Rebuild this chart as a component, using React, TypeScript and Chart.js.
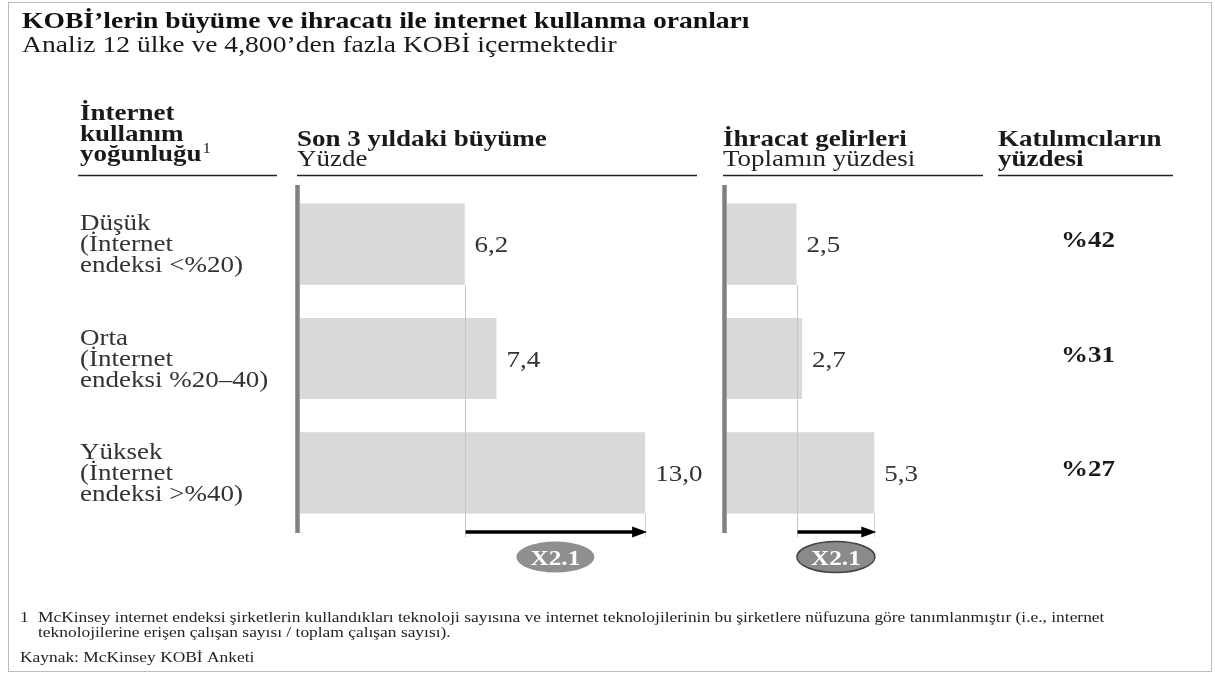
import React, { useEffect, useRef } from "react";
import { Chart, registerables } from "chart.js";

Chart.register(...registerables);

// ---------- data ----------
const categories = ["Düşük", "Orta", "Yüksek"];
const categoryDetails = [
  ["(İnternet", "endeksi <%20)"],
  ["(İnternet", "endeksi %20–40)"],
  ["(İnternet", "endeksi >%40)"],
];
const growthValues = [6.2, 7.4, 13.0];
const exportValues = [2.5, 2.7, 5.3];
const participantShares = [42, 31, 27];

const titleText = "KOBİ’lerin büyüme ve ihracatı ile internet kullanma oranları";
const subtitleText = "Analiz 12 ülke ve 4,800’den fazla KOBİ içermektedir";
const leftHeader = ["İnternet", "kullanım", "yoğunluğu"];
const growthHeader = ["Son 3 yıldaki büyüme", "Yüzde"];
const exportHeader = ["İhracat gelirleri", "Toplamın yüzdesi"];
const shareHeader = ["Katılımcıların", "yüzdesi"];
const footnoteLines = [
  "McKinsey internet endeksi şirketlerin kullandıkları teknoloji sayısına ve internet teknolojilerinin bu şirketlere nüfuzuna göre tanımlanmıştır (i.e., internet",
  "teknolojilerine erişen çalışan sayısı / toplam çalışan sayısı).",
];
const sourceText = "Kaynak: McKinsey KOBİ Anketi";

// ---------- drawing helpers ----------
const SERIF = "'Liberation Serif','Times New Roman',serif";
const SX = 1.2;
const W = 1215;
const H = 675;

function txt(
  ctx: CanvasRenderingContext2D,
  s: string,
  x: number,
  y: number,
  size: number,
  weight = "normal",
  color = "#1a1a1a",
  align: CanvasTextAlign = "left",
  sx = SX
): number {
  ctx.save();
  ctx.font = `${weight} ${size}px ${SERIF}`;
  ctx.fillStyle = color;
  ctx.textBaseline = "alphabetic";
  ctx.textAlign = align;
  ctx.translate(x, y);
  ctx.scale(sx, 1);
  ctx.fillText(s, 0, 0);
  const w = ctx.measureText(s).width * sx;
  ctx.restore();
  return w;
}

function hline(ctx: CanvasRenderingContext2D, x1: number, x2: number, y: number, color: string, lw: number) {
  ctx.save();
  ctx.strokeStyle = color;
  ctx.lineWidth = lw;
  ctx.beginPath();
  ctx.moveTo(x1, y);
  ctx.lineTo(x2, y);
  ctx.stroke();
  ctx.restore();
}

function vline(ctx: CanvasRenderingContext2D, x: number, y1: number, y2: number, color: string, lw: number) {
  ctx.save();
  ctx.strokeStyle = color;
  ctx.lineWidth = lw;
  ctx.beginPath();
  ctx.moveTo(x, y1);
  ctx.lineTo(x, y2);
  ctx.stroke();
  ctx.restore();
}

const fmt = (v: number) => v.toFixed(1).replace(".", ",");

function barExtras(id: string, ringStroke: string | null, extra?: (chart: any) => void) {
  return {
    id,
    afterDatasetsDraw(chart: any) {
      const ctx: CanvasRenderingContext2D = chart.ctx;
      const area = chart.chartArea;
      const xs = chart.scales.x;
      const meta = chart.getDatasetMeta(0);
      const vals = chart.data.datasets[0].data as number[];
      const bars = meta.data.map((el: any) => el.getProps(["x", "y", "height"], true));

      // axis line
      vline(ctx, area.left - 2.5, area.top - 2, area.bottom + 3, "#808080", 4.5);

      const lo = vals[0];
      const hi = vals[vals.length - 1];
      const xLo = xs.getPixelForValue(lo);
      const xHi = xs.getPixelForValue(hi);
      const arrowY = area.bottom + 2;

      // thin guide lines
      vline(ctx, Math.round(xLo) + 0.5, bars[0].y + bars[0].height / 2, arrowY + 5, "#c6c6c6", 1);
      vline(ctx, Math.round(xHi) + 0.5, bars[bars.length - 1].y + bars[bars.length - 1].height / 2, arrowY + 5, "#d0d0d0", 1);

      // value labels
      bars.forEach((b: any, i: number) => {
        txt(ctx, fmt(vals[i]), b.x + 10, b.y + 8, 22.5, "normal", "#333");
      });

      // arrow
      const ax1 = xLo + 1;
      const ax2 = xHi + 2;
      ctx.save();
      ctx.strokeStyle = "#000";
      ctx.fillStyle = "#000";
      ctx.lineWidth = 3.5;
      ctx.beginPath();
      ctx.moveTo(ax1, arrowY);
      ctx.lineTo(ax2 - 12, arrowY);
      ctx.stroke();
      ctx.beginPath();
      ctx.moveTo(ax2, arrowY);
      ctx.lineTo(ax2 - 15, arrowY - 5.5);
      ctx.lineTo(ax2 - 15, arrowY + 5.5);
      ctx.closePath();
      ctx.fill();
      ctx.restore();

      // ratio ellipse
      const cx = (ax1 + ax2) / 2 - 1;
      const cy = area.bottom + 27;
      ctx.save();
      ctx.beginPath();
      ctx.ellipse(cx, cy, 39, 15.5, 0, 0, Math.PI * 2);
      ctx.fillStyle = ringStroke ? "#8a8a8a" : "#8f8f8f";
      ctx.fill();
      if (ringStroke) {
        ctx.strokeStyle = ringStroke;
        ctx.lineWidth = 1.5;
        ctx.stroke();
      }
      ctx.restore();
      txt(ctx, "X" + (hi / lo).toFixed(1), cx, cy + 7.5, 21, "bold", "#ffffff", "center");

      if (extra) extra(chart);
    },
  };
}

const backgroundAndText = {
  id: "backgroundAndText",
  beforeDraw(chart: any) {
    const ctx: CanvasRenderingContext2D = chart.ctx;
    ctx.save();
    ctx.fillStyle = "#ffffff";
    ctx.fillRect(0, 0, W, H);
    ctx.strokeStyle = "#bdbdbd";
    ctx.lineWidth = 1;
    ctx.strokeRect(8.5, 2.5, 1203, 669);
    ctx.restore();

    // title block
    txt(ctx, titleText, 22, 28, 23, "bold", "#111");
    txt(ctx, subtitleText, 22, 52, 23, "normal", "#1a1a1a");

    // column headers
    txt(ctx, leftHeader[0], 80, 120, 22.5, "bold", "#1a1a1a");
    txt(ctx, leftHeader[1], 80, 141, 22.5, "bold", "#1a1a1a");
    const w = txt(ctx, leftHeader[2], 80, 161, 22.5, "bold", "#1a1a1a");
    txt(ctx, "1", 80 + w + 1, 153, 14, "normal", "#1a1a1a");

    txt(ctx, growthHeader[0], 297, 146, 22.5, "bold", "#1a1a1a");
    txt(ctx, growthHeader[1], 297, 166, 22.5, "normal", "#222");
    txt(ctx, exportHeader[0], 723, 146, 22.5, "bold", "#1a1a1a");
    txt(ctx, exportHeader[1], 723, 166, 22.5, "normal", "#222");
    txt(ctx, shareHeader[0], 998, 146, 22.5, "bold", "#1a1a1a");
    txt(ctx, shareHeader[1], 998, 166, 22.5, "bold", "#1a1a1a");

    hline(ctx, 78, 277, 175.5, "#222", 1.5);
    hline(ctx, 297, 697, 175.5, "#222", 1.5);
    hline(ctx, 723, 983, 175.5, "#222", 1.5);
    hline(ctx, 998, 1173, 175.5, "#222", 1.5);

    // footnotes
    txt(ctx, "1", 20, 622, 14.5, "normal", "#222");
    txt(ctx, footnoteLines[0], 38, 622, 14.5, "normal", "#222");
    txt(ctx, footnoteLines[1], 38, 637, 14.5, "normal", "#222");
    txt(ctx, sourceText, 20, 662, 14.5, "normal", "#222");
  },
};

function rowLabels(chart: any) {
  const ctx: CanvasRenderingContext2D = chart.ctx;
  const meta = chart.getDatasetMeta(0);
  meta.data.forEach((el: any, i: number) => {
    const y = el.getProps(["y"], true).y;
    txt(ctx, categories[i], 80, y - 14, 22.5, "normal", "#333");
    txt(ctx, categoryDetails[i][0], 80, y + 7, 22.5, "normal", "#333");
    txt(ctx, categoryDetails[i][1], 80, y + 28, 22.5, "normal", "#333");
  });
}

function shareColumn(chart: any) {
  const ctx: CanvasRenderingContext2D = chart.ctx;
  const meta = chart.getDatasetMeta(0);
  meta.data.forEach((el: any, i: number) => {
    const y = el.getProps(["y"], true).y;
    txt(ctx, "%" + participantShares[i], 1088, y + 3, 22.5, "bold", "#1a1a1a", "center");
  });
}

function makeConfig(values: number[], max: number, padding: any, plugins: any[]) {
  return {
    type: "bar" as const,
    data: {
      labels: categories,
      datasets: [
        {
          data: values,
          backgroundColor: "#d9d9d9",
          borderWidth: 0,
          barPercentage: 0.71,
          categoryPercentage: 1,
        },
      ],
    },
    options: {
      indexAxis: "y" as const,
      responsive: false,
      animation: false as const,
      devicePixelRatio: 1,
      layout: { padding },
      plugins: {
        legend: { display: false },
        tooltip: { enabled: false },
        title: { display: false },
      },
      scales: {
        x: { display: false, min: 0, max },
        y: { display: false },
      },
    },
    plugins,
  };
}

export default function App() {
  const c1 = useRef<HTMLCanvasElement>(null);
  const c2 = useRef<HTMLCanvasElement>(null);

  useEffect(() => {
    const growthChart = new Chart(
      c1.current as HTMLCanvasElement,
      makeConfig(growthValues, 15, { left: 300, right: 516.75, top: 187, bottom: 145 }, [
        backgroundAndText,
        barExtras("growthExtras", null, rowLabels),
      ]) as any
    );
    const exportChart = new Chart(
      c2.current as HTMLCanvasElement,
      makeConfig(exportValues, 7.5, { left: 727, right: 279.5, top: 187, bottom: 145 }, [
        barExtras("exportExtras", "#404040", shareColumn),
      ]) as any
    );
    return () => {
      growthChart.destroy();
      exportChart.destroy();
    };
  }, []);

  return (
    <div style={{ position: "absolute", left: 0, top: 0, width: W, height: H, background: "#fff" }}>
      <canvas ref={c1} width={W} height={H} style={{ position: "absolute", left: 0, top: 0, width: W, height: H }} />
      <canvas ref={c2} width={W} height={H} style={{ position: "absolute", left: 0, top: 0, width: W, height: H }} />
    </div>
  );
}
